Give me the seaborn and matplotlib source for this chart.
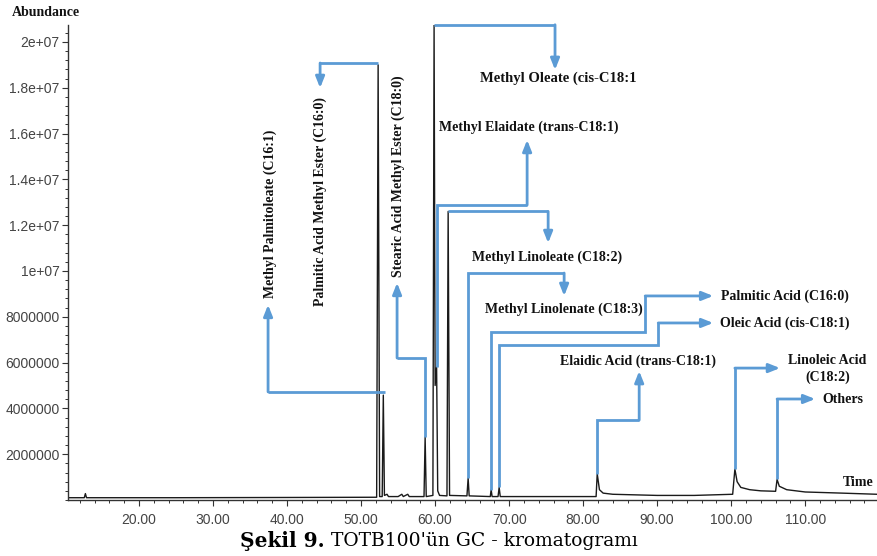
import numpy as np
import pandas as pd
import matplotlib
matplotlib.use("Agg")
import matplotlib.pyplot as plt
from matplotlib.ticker import MultipleLocator, FixedLocator
import seaborn as sns

# --- chromatogram trace (retention time in min, abundance) ---
trace_time = [10.4, 12.6, 12.75, 12.9, 25.0, 40.0, 52.1, 52.3, 52.5, 52.85, 53.0, 53.15,
              53.5, 53.7, 55.0, 55.5, 55.7, 56.3, 56.5, 58.5, 58.65, 58.8, 59.7, 59.86,
              60.0, 60.2, 60.35, 60.6, 61.6, 61.76, 61.95, 64.3, 64.46, 64.6, 67.45, 67.57,
              67.7, 68.5, 68.65, 68.8, 75.0, 80.0, 81.75, 81.9, 82.2, 82.7, 84.0, 90.0,
              95.0, 100.2, 100.5, 100.8, 101.3, 102.5, 104.0, 106.0, 106.2, 106.5, 107.5,
              110.0, 115.0, 119.7]
trace_abund = [0.10e6, 0.10e6, 0.28e6, 0.10e6, 0.10e6, 0.11e6, 0.12e6, 19.0e6, 0.15e6, 0.15e6,
               4.58e6, 0.20e6, 0.25e6, 0.15e6, 0.15e6, 0.25e6, 0.15e6, 0.25e6, 0.15e6, 0.15e6,
               2.75e6, 0.15e6, 0.20e6, 20.75e6, 5.0e6, 5.8e6, 0.40e6, 0.20e6, 0.18e6, 12.6e6,
               0.20e6, 0.18e6, 0.96e6, 0.18e6, 0.15e6, 0.45e6, 0.15e6, 0.15e6, 0.55e6, 0.15e6,
               0.15e6, 0.15e6, 0.15e6, 1.15e6, 0.45e6, 0.30e6, 0.25e6, 0.20e6, 0.20e6, 0.25e6,
               1.35e6, 0.80e6, 0.55e6, 0.45e6, 0.40e6, 0.38e6, 0.90e6, 0.60e6, 0.45e6, 0.35e6,
               0.30e6, 0.25e6]

# --- identified peaks: apex retention time and apex abundance ---
peak_names = ["Methyl Palmitoleate (C16:1)", "Palmitic Acid Methyl Ester (C16:0)",
              "Stearic Acid Methyl Ester (C18:0)", "Methyl Oleate (cis-C18:1",
              "Methyl Elaidate (trans-C18:1)", "Methyl Linoleate (C18:2)",
              "Methyl Linolenate (C18:3)", "Palmitic Acid (C16:0)", "Oleic Acid (cis-C18:1)",
              "Elaidic Acid (trans-C18:1)", "Linoleic Acid\n(C18:2)", "Others"]
peak_time = [53.0, 52.3, 58.65, 59.86, 60.2, 61.76, 64.46, 67.57, 68.65, 81.9, 100.5, 106.2]
peak_abund = [4.58e6, 19.0e6, 2.75e6, 20.75e6, 5.8e6, 12.6e6, 0.96e6, 0.45e6, 0.55e6,
              1.15e6, 1.35e6, 0.90e6]

x_ticks = [20, 30, 40, 50, 60, 70, 80, 90, 100, 110]
x_tick_labels = ["20.00", "30.00", "40.00", "50.00", "60.00", "70.00", "80.00", "90.00",
                 "100.00", "110.00"]
y_ticks = [2e6, 4e6, 6e6, 8e6, 1e7, 1.2e7, 1.4e7, 1.6e7, 1.8e7, 2e7]
y_tick_labels = ["2000000", "4000000", "6000000", "8000000", "1e+07", "1.2e+07", "1.4e+07",
                 "1.6e+07", "1.8e+07", "2e+07"]

sns.set_theme(style="white")
plt.rcParams["font.family"] = ["Liberation Sans", "DejaVu Sans"]

fig = plt.figure(figsize=(8.77, 5.56), dpi=100)
ax = fig.add_axes([68 / 877, 1 - 500 / 556, 1 - 68 / 877, 475 / 556])

df = pd.DataFrame({"time": trace_time, "abundance": trace_abund})
sns.lineplot(data=df, x="time", y="abundance", estimator=None, sort=False,
             color="#1a1a1a", linewidth=1.0, ax=ax)

ax.set_xlim(10.4, 119.7)
ax.set_ylim(0, 20.74e6)
ax.set_xlabel("")
ax.set_ylabel("")
for s in ("top", "right"):
    ax.spines[s].set_visible(False)
for s in ("left", "bottom"):
    ax.spines[s].set_color("#333333")
    ax.spines[s].set_linewidth(1.0)

ax.xaxis.set_major_locator(FixedLocator(x_ticks))
ax.set_xticklabels(x_tick_labels)
ax.xaxis.set_minor_locator(MultipleLocator(2))
ax.yaxis.set_major_locator(FixedLocator(y_ticks))
ax.set_yticklabels(y_tick_labels)
ax.yaxis.set_minor_locator(MultipleLocator(4e5))
ax.tick_params(axis="both", which="both", bottom=True, left=True)
ax.tick_params(axis="both", which="major", direction="out", length=4, width=0.8,
               color="#333333", labelsize=10, labelcolor="#444444", pad=2)
ax.tick_params(axis="both", which="minor", direction="out", length=2.5, width=0.7,
               color="#333333")
ax.tick_params(axis="x", which="major", pad=5)

blue = "#5b9bd5"
lab_font = dict(family="Liberation Serif", weight="bold", size=10, color="#111111")


def leader(points, text, tx, ty, **kw):
    """Draw an elbow leader from a peak to its label, ending in an arrow."""
    xs = [p[0] for p in points]
    ys = [p[1] for p in points]
    ax.plot(xs[:-1], ys[:-1], color=blue, lw=2, solid_capstyle="butt",
            solid_joinstyle="miter", clip_on=False, zorder=3)
    ax.annotate("", xy=points[-1], xytext=points[-2],
                arrowprops=dict(arrowstyle="-|>,head_length=0.55,head_width=0.22",
                                color=blue, lw=2, shrinkA=0, shrinkB=0),
                annotation_clip=False, zorder=3)
    style = {**lab_font, **kw}
    ax.text(tx, ty, text, **style)


M = 1e6
# Methyl Palmitoleate
leader([(53.2, 4.72 * M), (37.43, 4.72 * M), (37.43, 8.52 * M)],
       peak_names[0], 37.7, 8.82 * M, rotation=90, ha="center", va="bottom")
# Palmitic acid methyl ester
leader([(peak_time[1], 19.08 * M), (44.46, 19.08 * M), (44.46, 17.99 * M)],
       peak_names[1], 44.46, 17.6 * M, rotation=90, ha="center", va="top")
# Stearic acid methyl ester
leader([(peak_time[2], peak_abund[2]), (peak_time[2], 6.2 * M), (54.86, 6.2 * M),
        (54.86, 9.48 * M)],
       peak_names[2], 55.0, 9.74 * M, rotation=90, ha="center", va="bottom")
# Methyl oleate
leader([(peak_time[3], peak_abund[3]), (76.2, peak_abund[3]), (76.2, 18.78 * M)],
       peak_names[3], 66.1, 18.43 * M, ha="left", va="center", size=10.5)
# Methyl elaidate
leader([(peak_time[4] + 0.07, peak_abund[4]), (peak_time[4] + 0.07, 12.88 * M),
        (72.43, 12.88 * M), (72.43, 15.72 * M)],
       peak_names[4], 60.54, 16.29 * M, ha="left", va="center")
# Methyl linoleate
leader([(peak_time[5], peak_abund[5]), (75.27, peak_abund[5]), (75.27, 11.22 * M)],
       peak_names[5], 65.0, 10.61 * M, ha="left", va="center")
# Methyl linolenate
leader([(peak_time[6], peak_abund[6]), (peak_time[6], 9.91 * M), (77.43, 9.91 * M),
        (77.43, 8.91 * M)],
       peak_names[6], 66.76, 8.34 * M, ha="left", va="center")
# Palmitic acid
leader([(peak_time[7], peak_abund[7]), (peak_time[7], 7.34 * M), (88.38, 7.34 * M),
        (88.38, 8.91 * M), (97.57, 8.91 * M)],
       peak_names[7], 98.6, 8.91 * M, ha="left", va="center")
# Oleic acid
leader([(peak_time[8], peak_abund[8]), (peak_time[8], 6.77 * M), (90.14, 6.77 * M),
        (90.14, 7.73 * M), (97.57, 7.73 * M)],
       peak_names[8], 98.5, 7.73 * M, ha="left", va="center")
# Elaidic acid
leader([(peak_time[9], peak_abund[9]), (peak_time[9], 3.49 * M), (87.57, 3.49 * M),
        (87.57, 5.63 * M)],
       peak_names[9], 76.9, 6.07 * M, ha="left", va="center")
# Linoleic acid
leader([(peak_time[10], peak_abund[10]), (peak_time[10], 5.76 * M), (106.6, 5.76 * M)],
       peak_names[10], 113.0, 5.72 * M, ha="center", va="center", linespacing=1.3)
# Others
leader([(peak_time[11], peak_abund[11]), (peak_time[11], 4.41 * M), (111.35, 4.41 * M)],
       peak_names[11], 112.3, 4.37 * M, ha="left", va="center")

# axis captions
fig.text(12 / 877, 1 - 13 / 556, "Abundance", family="Liberation Serif", weight="bold",
         size=10, color="#111111", ha="left", va="center")
fig.text(874 / 877, 1 - 482 / 556, "Time", family="Liberation Serif", weight="bold",
         size=10, color="#111111", ha="right", va="center")

# figure caption
fig.text(325 / 877, 1 - 541 / 556, "Şekil 9.", family="DejaVu Serif", weight="bold",
         size=14.5, color="black", ha="right", va="center")
fig.text(331 / 877, 1 - 541 / 556, "TOTB100'ün GC - kromatogramı", family="DejaVu Serif",
         size=13.5, color="black", ha="left", va="center")

fig.savefig("out.png", dpi=100)
